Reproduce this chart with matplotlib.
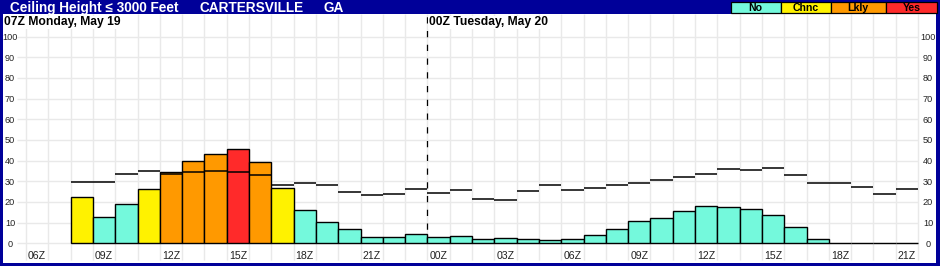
import numpy as np
import matplotlib
matplotlib.use('Agg')
import matplotlib.pyplot as plt
from matplotlib.patches import Rectangle

# ---------------- data ----------------
title_left = 'Ceiling Height \u2264 3000 Feet'
station = 'CARTERSVILLE'
state = 'GA'
day1_label = '07Z Monday, May 19'
day2_label = '00Z Tuesday, May 20'

# hourly slots starting 06Z Monday (slot 0) through 21Z Tuesday (slot 39)
prob_pct = [np.nan, np.nan, 22.5, 12.9, 18.9, 26.5, 34.3, 39.7, 43.1, 45.5,
            39.2, 26.6, 16.0, 10.2, 6.8, 3.2, 3.2, 4.4, 3.2, 3.3,
            1.9, 2.4, 1.9, 1.4, 1.9, 3.9, 6.8, 10.6, 12.1, 15.5,
            17.9, 17.4, 16.4, 13.5, 7.7, 2.1, 0.0, 0.0, 0.0, 0.0]
category = ['', '', 'Chnc', 'No', 'No', 'Chnc', 'Lkly', 'Lkly', 'Lkly', 'Yes',
            'Lkly', 'Chnc', 'No', 'No', 'No', 'No', 'No', 'No', 'No', 'No',
            'No', 'No', 'No', 'No', 'No', 'No', 'No', 'No', 'No', 'No',
            'No', 'No', 'No', 'No', 'No', 'No', 'No', 'No', 'No', 'No']
threshold_pct = [np.nan, np.nan, 29.5, 29.5, 33.4, 34.8, 33.4, 34.3, 34.8, 34.3,
                 33.0, 28.1, 29.0, 28.1, 24.7, 23.2, 23.7, 26.1, 24.5, 25.6,
                 21.3, 20.8, 25.2, 28.1, 25.6, 26.6, 28.1, 29.0, 30.5, 31.9,
                 33.4, 35.8, 35.3, 36.3, 33.0, 29.0, 29.0, 27.1, 23.7, 26.1]
tick_slots = [0, 3, 6, 9, 12, 15, 18, 21, 24, 27, 30, 33, 36, 39]
tick_labels = ['06Z', '09Z', '12Z', '15Z', '18Z', '21Z', '00Z',
               '03Z', '06Z', '09Z', '12Z', '15Z', '18Z', '21Z']
y_ticks = [0, 10, 20, 30, 40, 50, 60, 70, 80, 90, 100]
legend_cats = ['No', 'Chnc', 'Lkly', 'Yes']
day_break_slot = 18

# ---------------- style ----------------
BLUE = '#000099'
COLORS = {'No': '#74f9dc', 'Chnc': '#fff200', 'Lkly': '#ff9900', 'Yes': '#ff2a2a'}
FONT = ['Liberation Sans', 'DejaVu Sans']
plt.rcParams['font.family'] = FONT

W, H = 940, 266
fig = plt.figure(figsize=(W / 100, H / 100), dpi=100, facecolor=BLUE)

def fx(px):
    return px / W

def fy(py):
    return 1 - py / H

# axes spans the white panel (pixels x 3..936, y 14..263)
ax = fig.add_axes([fx(3), fy(263), fx(933), 249 / H])
ax.set_facecolor('white')
for s in ax.spines.values():
    s.set_visible(False)
ax.set_xticks([])
ax.set_yticks([])

pph = 22.3          # pixels per hour
x0 = (3 - 26) / pph
x1 = (936 - 26) / pph
ppv = 2.066         # pixels per percent
y_bot = -(263 - 243.3) / ppv
y_top = (243.3 - 14) / ppv
ax.set_xlim(x0, x1)
ax.set_ylim(y_bot, y_top)

nslots = len(prob_pct)
grid_c = '#e9e9e9'
# vertical grid
ax.vlines(np.arange(nslots + 1), -(260 - 243.3) / ppv, y_top, colors=grid_c,
          linewidth=1.0, zorder=0)
# horizontal grid
ax.hlines(y_ticks, (17 - 26) / pph, nslots, colors=grid_c, linewidth=1.0, zorder=0)

# day break dashed line
ax.vlines([day_break_slot], 0, y_top, colors='black', linewidth=0.9,
          linestyles=(0, (5, 6)), zorder=1)

# bars
slots = np.arange(nslots)
vals = np.array(prob_pct, dtype=float)
valid = ~np.isnan(vals)
ax.bar(slots[valid], vals[valid], width=1.0, align='edge',
       color=[COLORS[category[i]] for i in slots[valid]],
       edgecolor='black', linewidth=1.0, zorder=2)

# threshold step segments
thr = np.array(threshold_pct, dtype=float)
tv = ~np.isnan(thr)
ax.hlines(thr[tv], slots[tv], slots[tv] + 1, colors='black', linewidth=1.1, zorder=3)

# y labels (left and right)
for v in y_ticks:
    ax.text((10 - 26) / pph, v - 3.2 / ppv, str(v), ha='center', va='baseline',
            fontsize=6.6, color='#222222', zorder=4)
    ax.text((928 - 26) / pph, v - 3.2 / ppv, str(v), ha='center', va='baseline',
            fontsize=6.6, color='#222222', zorder=4)

# x labels
for s, lab in zip(tick_slots, tick_labels):
    ax.text(s + 0.5, -(259.3 - 243.3) / ppv, lab, ha='center', va='baseline',
            fontsize=7.6, color='#222222', zorder=4)

# day headers
ax.text((4 - 26) / pph, (243.3 - 25.3) / ppv, day1_label, ha='left', va='baseline',
        fontsize=8.7, fontweight='bold', color='black', zorder=5,
        bbox=dict(facecolor='white', edgecolor='none', pad=0.5))
ax.text((428.5 - 26) / pph, (243.3 - 25.3) / ppv, day2_label, ha='left', va='baseline',
        fontsize=8.7, fontweight='bold', color='black', zorder=5,
        bbox=dict(facecolor='white', edgecolor='none', pad=0.5))

# title
fig.text(fx(10), fy(11.8), title_left, ha='left', va='baseline', fontsize=9.8,
         fontweight='bold', color='white', family=FONT)
fig.text(fx(199), fy(11.8), station, ha='left', va='baseline', fontsize=9.8,
         fontweight='bold', color='white')
fig.text(fx(323), fy(11.8), state, ha='left', va='baseline', fontsize=9.8,
         fontweight='bold', color='white')

# legend boxes
box_edges = [730.7, 780.7, 830.7, 885.7, 937.3]
for i, cat in enumerate(legend_cats):
    xa, xb = box_edges[i], box_edges[i + 1]
    rect = Rectangle((fx(xa), fy(13.3)), fx(xb - xa), (13.3 - 1.7) / H,
                     transform=fig.transFigure, facecolor=COLORS[cat],
                     edgecolor='black', linewidth=0.9)
    fig.patches.append(rect)
    fig.text(fx((xa + xb) / 2), fy(10.9), cat, ha='center', va='baseline',
             fontsize=7.6, fontweight='bold', color='black')

fig.savefig('out.png', dpi=100, facecolor=BLUE)
